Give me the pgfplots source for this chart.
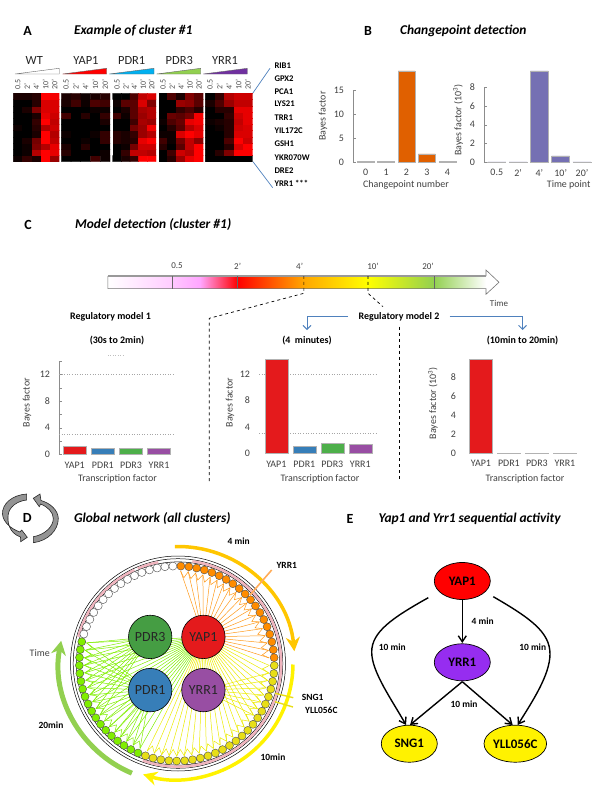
\documentclass[border=0pt]{standalone}
\usepackage{fontspec}
\setmainfont{Carlito}
\usepackage{pgfplots}
\pgfplotsset{compat=1.18}
\usepgfplotslibrary{polar}
\usetikzlibrary{arrows.meta,shapes.geometric}

\definecolor{barred}{RGB}{228,26,28}
\definecolor{barblue}{RGB}{55,126,184}
\definecolor{bargreen}{RGB}{77,175,74}
\definecolor{barpurple}{RGB}{152,78,163}
\definecolor{barorange}{RGB}{224,96,0}
\definecolor{barslate}{RGB}{117,112,179}
\definecolor{linkblue}{RGB}{79,129,189}
\definecolor{netorange}{RGB}{255,153,26}
\definecolor{netyellow}{RGB}{235,235,0}
\definecolor{netgreen}{RGB}{128,238,0}
\definecolor{wedgecyan}{RGB}{0,176,240}
\definecolor{wedgegreen}{RGB}{146,208,80}
\definecolor{wedgepurple}{RGB}{112,48,160}
\definecolor{ringpink}{RGB}{240,180,190}

\pgfplotsset{
  colormap={blackred}{rgb255(0cm)=(0,0,0); rgb255(1cm)=(255,0,0)},
  heat/.style={
    scale only axis, anchor=north west, height=68.4bp,
    colormap name=blackred, point meta min=0, point meta max=1,
    xmin=-0.5, xmax=4.5, ymin=-0.5, ymax=10.5,
    axis line style={draw=none}, major tick length=0pt,
    ytick=\empty, xtick={0,1,2,3,4}, xticklabels={0.5,2',4',10',20'},
    xticklabel pos=upper,
    x tick label style={rotate=90, anchor=west, font=\fontsize{8}{9}\selectfont, text=black!70},
  },
  cell/.style={matrix plot*, mesh/cols=5, point meta=explicit},
  barbox/.style={
    scale only axis, anchor=south west, clip=false,
    axis y line*=left, axis x line*=bottom,
    x axis line style={draw=none}, xtick style={draw=none},
    y axis line style={draw=black!45}, ytick style={draw=black!45},
    major tick length=3bp,
    ticklabel style={font=\fontsize{10}{11}\selectfont, text=black!75},
    x tick label style={yshift=-4bp},
    y tick label style={xshift=-5.5bp},
    label style={font=\fontsize{10}{11}\selectfont, text=black!75},
  },
  noyline/.style={y axis line style={draw=none}, ytick style={draw=none}},
  onebar/.style={ybar, bar shift=0pt, draw=black!30, line width=0.6pt, fill=#1},
}
\tikzset{
  title/.style={font=\fontsize{13.5}{15}\selectfont\bfseries\itshape, anchor=west},
  letter/.style={font=\fontsize{14}{15}\selectfont\bfseries},
  gene/.style={font=\fontsize{8.7}{10}\selectfont\bfseries, anchor=west},
  bold/.style={font=\fontsize{9.5}{11}\selectfont\bfseries},
  model/.style={font=\fontsize{10}{11}\selectfont\bfseries},
  plain/.style={font=\fontsize{9}{10}\selectfont, text=black!75},
  state/.style={draw=black, line width=0.7pt, ellipse, minimum width=56bp, minimum height=37bp, inner sep=0pt,
    font=\fontsize{13}{14}\selectfont\bfseries},
  link/.style={draw=black, line width=1.4pt, -{Straight Barb[length=6bp,width=8bp]}},
  hub/.style={font=\fontsize{14}{15}\selectfont, text=black!85},
}

\begin{document}
\begin{tikzpicture}
\path[use as bounding box] (0bp,0bp) rectangle (600bp,-800bp);

% diagram parts, in pixel coordinates of the 600x800 page
\begin{scope}[x=1bp,y=-1bp]
\node[letter] at (27.5,31) {A};
\node[title] at (70.5,31) {Example of cluster \#1};
\node[letter] at (368,31) {B};
\node[title] at (396.5,31) {Changepoint detection};
\node[letter] at (28,225) {C};
\node[title] at (71.5,225) {Model detection (cluster \#1)};
\node[title] at (70.5,519) {Global network (all clusters)};
\node[letter] at (350,519) {E};
\node[title] at (375,519) {Yap1 and Yrr1 sequential activity};

% panel A wedges and names
\foreach \xa/\xb/\c/\n/\t in {15/59.3/white/WT/34.3, 62.7/106.7/red/YAP1/86, 109.3/154/wedgecyan/PDR1/131.7, 156.7/200.7/wedgegreen/PDR3/179.3, 203.3/247.3/wedgepurple/YRR1/225}{
  \draw[draw=black!60, line width=0.4pt, fill=\c] (\xa,74) -- (\xb,68.3) -- (\xb,74) -- cycle;
  \node[font=\fontsize{12.5}{14}\selectfont, text=black!85] at (\t,60.3) {\n};
}
\foreach \y/\g in {66/RIB1, 79/GPX2, 91.7/PCA1, 104/LYS21, 117.3/TRR1, 130.7/YIL172C, 144/GSH1, 157.3/YKR070W, 170.7/DRE2, 183.3/YRR1 ***}{
  \node[gene] at (271,\y) {\g};
}
\draw[linkblue, line width=0.7pt] (270,68.3) -- (252.7,93.3) (253,161.7) -- (272.7,187.7);

% panel C time arrow
\shade[left color=white, right color=magenta!20] (107.8,276) rectangle (172.5,288.7);
\shade[left color=magenta!22, right color=magenta!35] (172.5,276) rectangle (200,288.7);
\shade[left color=magenta!35, right color=red] (200,276) rectangle (237.6,288.7);
\shade[left color=red, right color=orange!70!yellow] (237.6,276) rectangle (303.5,288.7);
\shade[left color=orange!70!yellow, right color=yellow] (303.5,276) rectangle (368,288.7);
\shade[left color=yellow, right color=wedgegreen] (368,276) rectangle (434,288.7);
\shade[left color=wedgegreen, right color=white] (434,276) rectangle (486,288.7);
\draw[black!55, line width=0.6pt] (486,276) -- (486,270) -- (499,282.3) -- (486,294.3) -- (486,288.7) -- (107.8,288.7) -- (107.8,276);
\draw[black!40, line width=1.3pt] (107.8,276) -- (486,276);
\draw[black!60, line width=0.5pt] (172.5,276) -- (172.5,288.7) (237.6,276) -- (237.6,288.7) (434,276) -- (434,288.7);
\foreach \x/\l in {177/0.5, 237.6/2', 299.6/4', 373/10', 428/20'}{
  \node[plain] at (\x,266) {\l};
}
\node[plain] at (499,303.7) {Time};
\draw[black, dashed, line width=0.7pt] (303.9,276) -- (303.9,293.3) -- (209.3,318.3) -- (209.3,481.7);
\draw[black, dashed, line width=0.7pt] (368,276) -- (368,293.3) -- (383,306.7);
\draw[black, dashed, line width=0.7pt] (399,326.7) -- (399,481.7);
\node[model] at (110.5,316.7) {Regulatory model 1};
\node[model] at (399,316.7) {Regulatory model 2};
\node[model] at (117,341) {(30s to 2min)};
\node[model] at (307,341) {(4\ \ minutes)};
\node[model] at (522.5,341) {(10min to 20min)};
\draw[linkblue, line width=0.9pt, -{Straight Barb[length=4bp,width=8bp]}] (348,316) -- (307,316) -- (307,330);
\draw[linkblue, line width=0.9pt, -{Straight Barb[length=4bp,width=8bp]}] (449.6,316) -- (522.5,316) -- (522.5,330);
\draw[black!25, dotted, line width=0.5pt] (108,355.7) -- (124,355.7);

% panel D cycle icon
\node[letter] at (27.3,518.3) {D};
\draw[fill=black!42, draw=black!85, line width=0.6pt] (26.7,494) .. controls (12,495) and (2,504) .. (2.5,514) .. controls (3,522) and (11,529) .. (20,532) -- (21.7,530) -- (27.3,537.3) -- (20.7,541.7) -- (20.5,537) .. controls (9,533) and (7,522) .. (8.3,514) .. controls (9.5,507) and (17,501) .. (26.7,500) -- cycle;
\draw[fill=black!42, draw=black!85, line width=0.6pt] (33.3,542.7) .. controls (48,541) and (58.5,530) .. (58.3,518.3) .. controls (58,510) and (50,503) .. (41,500.5) -- (40,494) -- (33.3,498.3) -- (39.3,506.7) -- (40.5,504) .. controls (48,507) and (53,512) .. (53.3,518.3) .. controls (53.5,527) and (44,535) .. (33.3,536.7) -- cycle;

% panel D rings
\draw[black, line width=0.5pt] (178,663.5) circle[radius=107.5];
\draw[black, line width=0.5pt] (178,663.5) circle[radius=104.8];
\draw[black, line width=0.5pt] (178,663.5) circle[radius=101.6];
\foreach \a/\b in {-82/110, 195/245, 247/259}{
  \draw[ringpink, line width=2.4pt] ([shift={(\a:103.2)}]178,663.5) arc[start angle=\a, end angle=\b, radius=103.2];
}
% arcs round the network
\draw[color=orange!45!yellow, line width=3.5pt, -{Stealth[length=14bp,width=14bp]}] ([shift={(-91.5:117)}]178,663.5) arc[start angle=-91.5, end angle=-6, radius=117];
\draw[color=yellow, line width=3.5pt, -{Stealth[length=14bp,width=14bp]}] ([shift={(0.5:115)}]178,663.5) arc[start angle=0.5, end angle=107, radius=116];
\draw[color=wedgegreen, line width=5pt, -{Stealth[length=14bp,width=15bp]}] ([shift={(112.8:119)}]178,663.5) arc[start angle=112.8, end angle=191, radius=119];
\draw[color=orange!65!white, line width=1.6pt] (271.7,570) -- (250,595);
\draw[color=yellow!90!black, line width=1.4pt] (275,693.3) -- (293.3,697.7) (275,701.7) -- (293,707);
\node[bold] at (238.7,541) {4 min};
\node[bold] at (286.7,565.7) {YRR1};
\node[bold] at (312.7,697.7) {SNG1};
\node[bold, anchor=west] at (301.7,710.7) {YLL056C};
\node[bold] at (51,725) {20min};
\node[bold] at (273,757.7) {10min};
\node[plain, font=\fontsize{10}{11}\selectfont] at (39.7,652.7) {Time};

% panel E
\node[state, fill=red] (yap) at (462.3,581) {YAP1};
\node[state, fill={rgb,255:red,150;green,45;blue,240}] (yrr) at (462.3,662.3) {YRR1};
\node[state, fill=yellow] (sng) at (409.3,743.7) {SNG1};
\node[state, fill=yellow] (yll) at (515.3,743.7) {YLL056C};
\draw[link] (462.3,600) -- (462.3,643);
\draw[link] (428.3,597.7) .. controls (392,618) and (371.7,632) .. (371.7,652) .. controls (371.7,672) and (392,700) .. (406,725);
\draw[link] (493.3,596.7) .. controls (530,618) and (550,632) .. (550,654) .. controls (550,675) and (532,702) .. (517.7,725);
\draw[link] (462.3,681.7) -- (410,725);
\draw[link] (462.3,681.7) -- (512.7,725);
\node[bold] at (482.7,621.3) {4 min};
\node[bold] at (392.3,647.7) {10 min};
\node[bold] at (532.7,647.7) {10 min};
\node[bold] at (464,704) {10 min};
\end{scope}

% panel A heatmaps, rows listed from the bottom row up
\begin{axis}[heat, at={(13.3bp,-93.3bp)}, width=46bp]
\addplot[cell] coordinates {
(0,0)[.05] (1,0)[.2] (2,0)[.1] (3,0)[1] (4,0)[.6]
(0,1)[0] (1,1)[.05] (2,1)[.7] (3,1)[1] (4,1)[.9]
(0,2)[0] (1,2)[.05] (2,2)[.5] (3,2)[.7] (4,2)[.9]
(0,3)[0] (1,3)[.1] (2,3)[.45] (3,3)[1] (4,3)[.75]
(0,4)[0] (1,4)[0] (2,4)[.1] (3,4)[1] (4,4)[.7]
(0,5)[.05] (1,5)[0] (2,5)[.15] (3,5)[.7] (4,5)[.8]
(0,6)[0] (1,6)[0] (2,6)[.2] (3,6)[1] (4,6)[.75]
(0,7)[0] (1,7)[0] (2,7)[.1] (3,7)[.9] (4,7)[.8]
(0,8)[0] (1,8)[.1] (2,8)[.5] (3,8)[.85] (4,8)[.85]
(0,9)[0] (1,9)[0] (2,9)[.15] (3,9)[.85] (4,9)[.85]
(0,10)[.1] (1,10)[.1] (2,10)[.15] (3,10)[1] (4,10)[.95]
};
\end{axis}
\begin{axis}[heat, at={(61.3bp,-93.3bp)}, width=48.7bp]
\addplot[cell] coordinates {
(0,0)[0] (1,0)[0] (2,0)[0] (3,0)[.25] (4,0)[.05]
(0,1)[.15] (1,1)[0] (2,1)[0] (3,1)[0] (4,1)[.05]
(0,2)[.1] (1,2)[0] (2,2)[.15] (3,2)[0] (4,2)[0]
(0,3)[0] (1,3)[0] (2,3)[.05] (3,3)[0] (4,3)[.2]
(0,4)[.05] (1,4)[0] (2,4)[0] (3,4)[.05] (4,4)[.2]
(0,5)[0] (1,5)[0] (2,5)[0] (3,5)[0] (4,5)[0]
(0,6)[0] (1,6)[0] (2,6)[0] (3,6)[0] (4,6)[.1]
(0,7)[.25] (1,7)[0] (2,7)[.15] (3,7)[0] (4,7)[.2]
(0,8)[0] (1,8)[0] (2,8)[0] (3,8)[.05] (4,8)[.05]
(0,9)[.1] (1,9)[.25] (2,9)[.05] (3,9)[.3] (4,9)[.25]
(0,10)[.1] (1,10)[.15] (2,10)[.05] (3,10)[.1] (4,10)[.15]
};
\end{axis}
\begin{axis}[heat, at={(112.7bp,-93.3bp)}, width=43.3bp]
\addplot[cell] coordinates {
(0,0)[0] (1,0)[.1] (2,0)[.2] (3,0)[1] (4,0)[1]
(0,1)[0] (1,1)[.2] (2,1)[.75] (3,1)[.75] (4,1)[.7]
(0,2)[0] (1,2)[.05] (2,2)[.45] (3,2)[.8] (4,2)[.8]
(0,3)[.15] (1,3)[.1] (2,3)[.15] (3,3)[.9] (4,3)[1]
(0,4)[.15] (1,4)[.1] (2,4)[.2] (3,4)[.6] (4,4)[.7]
(0,5)[0] (1,5)[0] (2,5)[.45] (3,5)[.6] (4,5)[.95]
(0,6)[0] (1,6)[0] (2,6)[.25] (3,6)[.65] (4,6)[.6]
(0,7)[.25] (1,7)[.05] (2,7)[.35] (3,7)[.6] (4,7)[.7]
(0,8)[0] (1,8)[.1] (2,8)[.35] (3,8)[.65] (4,8)[.7]
(0,9)[.05] (1,9)[.35] (2,9)[.35] (3,9)[.85] (4,9)[.5]
(0,10)[0] (1,10)[0] (2,10)[.3] (3,10)[.75] (4,10)[.85]
};
\end{axis}
\begin{axis}[heat, at={(158.7bp,-93.3bp)}, width=44.6bp]
\addplot[cell] coordinates {
(0,0)[0] (1,0)[.15] (2,0)[.6] (3,0)[.9] (4,0)[1]
(0,1)[0] (1,1)[.25] (2,1)[.8] (3,1)[.7] (4,1)[1]
(0,2)[.15] (1,2)[0] (2,2)[.35] (3,2)[.75] (4,2)[1]
(0,3)[.25] (1,3)[.05] (2,3)[.45] (3,3)[.75] (4,3)[.55]
(0,4)[.05] (1,4)[.05] (2,4)[.85] (3,4)[1] (4,4)[.9]
(0,5)[0] (1,5)[.15] (2,5)[.35] (3,5)[.7] (4,5)[.85]
(0,6)[.05] (1,6)[.3] (2,6)[.4] (3,6)[.9] (4,6)[.95]
(0,7)[0] (1,7)[.4] (2,7)[.35] (3,7)[.45] (4,7)[.95]
(0,8)[0] (1,8)[0] (2,8)[.2] (3,8)[.3] (4,8)[.15]
(0,9)[0] (1,9)[0] (2,9)[.6] (3,9)[.55] (4,9)[.35]
(0,10)[0] (1,10)[.3] (2,10)[.1] (3,10)[.5] (4,10)[.35]
};
\end{axis}
\begin{axis}[heat, at={(205.3bp,-93.3bp)}, width=47.4bp]
\addplot[cell] coordinates {
(0,0)[0] (1,0)[0] (2,0)[0] (3,0)[0] (4,0)[0]
(0,1)[0] (1,1)[.15] (2,1)[.5] (3,1)[1] (4,1)[1]
(0,2)[0] (1,2)[0] (2,2)[.15] (3,2)[.85] (4,2)[1]
(0,3)[0] (1,3)[0] (2,3)[.3] (3,3)[1] (4,3)[.8]
(0,4)[0] (1,4)[0] (2,4)[.15] (3,4)[.85] (4,4)[.85]
(0,5)[0] (1,5)[.05] (2,5)[.15] (3,5)[.8] (4,5)[.85]
(0,6)[.05] (1,6)[.1] (2,6)[.15] (3,6)[.75] (4,6)[.9]
(0,7)[0] (1,7)[0] (2,7)[.2] (3,7)[.8] (4,7)[.9]
(0,8)[0] (1,8)[.15] (2,8)[.15] (3,8)[.9] (4,8)[.9]
(0,9)[.1] (1,9)[.3] (2,9)[.6] (3,9)[.75] (4,9)[.75]
(0,10)[0] (1,10)[.2] (2,10)[.7] (3,10)[.8] (4,10)[.8]
};
\end{axis}

% panel B
\begin{axis}[barbox, at={(353bp,-162bp)}, width=107bp, height=72bp,
  xmin=-0.62, xmax=4.62, ymin=0, ymax=15,
  xtick={0,1,2,3,4}, xticklabels={0,1,2,3,4}, ytick={0,5,10,15}, yticklabels={0,5,10,15},
  xlabel={Changepoint number}, ylabel={Bayes factor},
  x label style={at={(axis description cs:0.495,-0.319)},anchor=center},
  y label style={at={(axis description cs:-0.28,0.639)},anchor=center},
]
\addplot[onebar=barorange, bar width=17bp] coordinates {(0,0.05) (1,0.05) (2,19) (3,1.7) (4,0.05)};
\end{axis}
\begin{axis}[barbox, at={(484bp,-162bp)}, width=108bp, height=74.7bp,
  xmin=-0.6, xmax=4.47, ymin=0, ymax=8,
  xtick={0,1,2,3,4}, xticklabels={0.5,2',4',10',20'}, ytick={0,2,4,6,8}, yticklabels={0,2,4,6,8},
  xlabel={Time point}, ylabel={Bayes factor (10\textsuperscript{3})},
  x label style={at={(axis description cs:0.784,-0.308)},anchor=center},
  y label style={at={(axis description cs:-0.24,0.562)},anchor=center},
]
\addplot[onebar=barslate, bar width=18bp] coordinates {(0,0.02) (1,0.02) (2,9.75) (3,0.65) (4,0.02)};
\end{axis}

% panel C
\begin{axis}[barbox, at={(59bp,-454.3bp)}, width=115bp, height=93.3bp,
  xmin=-0.56, xmax=3.53, ymin=0, ymax=14,
  xtick={0,1,2,3}, xticklabels={YAP1,PDR1,PDR3,YRR1},
  ytick={0,2,...,14}, yticklabels={0,,4,,8,,12,},
  xlabel={Transcription factor}, ylabel={Bayes factor},
  x label style={at={(axis description cs:0.508,-0.268)},anchor=center},
  y label style={at={(axis description cs:-0.278,0.553)},anchor=center},
]
\addplot[black!35, dotted, line width=0.6pt] coordinates {(-0.56,12) (3.53,12)};
\addplot[black!35, dotted, line width=0.6pt] coordinates {(-0.56,3) (3.53,3)};
\addplot[onebar=barred, bar width=23bp] coordinates {(0,1.15)};
\addplot[onebar=barblue, bar width=23bp] coordinates {(1,0.85)};
\addplot[onebar=bargreen, bar width=23bp] coordinates {(2,0.95)};
\addplot[onebar=barpurple, bar width=23bp] coordinates {(3,0.9)};
\end{axis}
\begin{axis}[barbox, noyline, at={(259bp,-453.3bp)}, width=117bp, height=92.2bp,
  xmin=-0.62, xmax=3.56, ymin=0, ymax=14,
  xtick={0,1,2,3}, xticklabels={YAP1,PDR1,PDR3,YRR1},
  ytick={0,4,8,12}, yticklabels={0,4,8,12},
  xlabel={Transcription factor}, ylabel={Bayes factor},
  x label style={at={(axis description cs:0.521,-0.282)},anchor=center},
  y label style={at={(axis description cs:-0.248,0.549)},anchor=center},
]
\addplot[black!35, dotted, line width=0.6pt] coordinates {(-0.62,12) (3.56,12)};
\addplot[black!35, dotted, line width=0.6pt] coordinates {(-0.62,3) (3.56,3)};
\addplot[onebar=barred, bar width=23bp] coordinates {(0,14.3)};
\addplot[onebar=barblue, bar width=23bp] coordinates {(1,1.06)};
\addplot[onebar=bargreen, bar width=23bp] coordinates {(2,1.5)};
\addplot[onebar=barpurple, bar width=23bp] coordinates {(3,1.4)};
\end{axis}
\begin{axis}[barbox, noyline, at={(465bp,-453bp)}, width=120bp, height=75.7bp,
  xmin=-0.57, xmax=3.72, ymin=0, ymax=8,
  xtick={0,1,2,3}, xticklabels={YAP1,PDR1,PDR3,YRR1},
  ytick={0,2,4,6,8}, yticklabels={0,2,4,6,8},
  xlabel={Transcription factor}, ylabel={Bayes factor (10\textsuperscript{3})},
  x label style={at={(axis description cs:0.5,-0.347)},anchor=center},
  y label style={at={(axis description cs:-0.267,0.657)},anchor=center},
]
\addplot[onebar=barred, bar width=23bp] coordinates {(0,9.9)};
\addplot[onebar=black!25, bar width=23bp] coordinates {(1,0.02)};
\addplot[onebar=black!25, bar width=23bp] coordinates {(2,0.02)};
\addplot[onebar=black!25, bar width=23bp] coordinates {(3,0.02)};
\end{axis}

% panel D network, angle and radius in a polar axis of 1bp per unit
\begin{polaraxis}[scale only axis, width=240bp, height=240bp, anchor=center, at={(176.8bp,-663.5bp)},
  hide axis, clip=false, xmin=0, xmax=360, ymin=0, ymax=120]
% green links
\pgfplotsinvokeforeach{-113.4,-118.1,-122.8,-127.45,-132.1,-136.8,-141.5,-146.15,-150.8,-155.5,-160.2,-164.85,-169.5,-174.2,-178.9,-183.55,-188.2,-192.9}{
  \addplot[netgreen, line width=0.5pt] coordinates {(45,37.6) (#1,92.5)};
  \addplot[netgreen, line width=0.5pt] coordinates {(225,37.6) (#1,92.5)};
}
\pgfplotsinvokeforeach{-146.15,-150.8,-155.5,-160.2,-164.85,-169.5,-174.2,-178.9,-183.55,-188.2,-192.9}{
  \addplot[netgreen, line width=0.5pt] coordinates {(135,37.6) (#1,92.5)};
}
\addplot[netgreen, line width=0.5pt] coordinates {(-113.4,92.5)(-115.75,86)(-118.1,92.5)(-120.45,86)(-122.8,92.5)(-125.1,86)(-127.45,92.5)(-129.8,86)(-132.1,92.5)(-134.45,86)(-136.8,92.5)(-139.15,86)(-141.5,92.5)(-143.8,86)(-146.15,92.5)(-148.5,86)(-150.8,92.5)(-153.15,86)(-155.5,92.5)(-157.85,86)(-160.2,92.5)(-162.5,86)(-164.85,92.5)(-167.2,86)(-169.5,92.5)(-171.85,86)(-174.2,92.5)(-176.55,86)(-178.9,92.5)(-181.2,86)(-183.55,92.5)(-185.9,86)(-188.2,92.5)(-190.55,86)(-192.9,92.5)};
% yellow links
\pgfplotsinvokeforeach{-1.2,-5.9,-10.6,-15.25,-19.9,-24.6,-29.3,-33.95,-38.6,-43.3,-48,-52.65,-57.3,-62,-66.7,-71.35,-76,-80.7,-85.4,-90.05,-94.7,-99.4,-104.1,-108.75}{
  \addplot[netyellow, line width=0.5pt] coordinates {(45,37.6) (#1,92.5)};
}
\pgfplotsinvokeforeach{-5.9,-10.6,-15.25,-19.9,-24.6,-29.3,-33.95}{
  \addplot[netyellow, line width=0.5pt] coordinates {(-45,37.6) (#1,92.5)};
}
\addplot[netyellow, line width=0.5pt] coordinates {(-1.2,92.5)(-3.55,86)(-5.9,92.5)(-8.25,86)(-10.6,92.5)(-12.9,86)(-15.25,92.5)(-17.6,86)(-19.9,92.5)(-22.25,86)(-24.6,92.5)(-26.95,86)(-29.3,92.5)(-31.6,86)(-33.95,92.5)(-36.3,86)(-38.6,92.5)(-40.95,86)(-43.3,92.5)(-45.65,86)(-48,92.5)(-50.3,86)(-52.65,92.5)(-55,86)(-57.3,92.5)(-59.65,86)(-62,92.5)(-64.35,86)(-66.7,92.5)(-69,86)(-71.35,92.5)(-73.7,86)(-76,92.5)(-78.35,86)(-80.7,92.5)(-83.05,86)(-85.4,92.5)(-87.7,86)(-90.05,92.5)(-92.4,86)(-94.7,92.5)(-97.05,86)(-99.4,92.5)(-101.75,86)(-104.1,92.5)(-106.4,86)(-108.75,92.5)};
% orange links
\pgfplotsinvokeforeach{87.6,82.9,78.25,73.6,68.9,64.2,59.55,54.9,50.2,45.5,40.85,36.2,31.5,26.8,22.15,17.5,12.8,8.1,3.45}{
  \addplot[netorange, line width=0.5pt] coordinates {(45,37.6) (#1,92.5)};
}
\addplot[netorange, line width=0.5pt] coordinates {(87.6,92.5)(85.3,86)(82.9,92.5)(80.6,86)(78.25,92.5)(75.9,86)(73.6,92.5)(71.2,86)(68.9,92.5)(66.6,86)(64.2,92.5)(61.9,86)(59.55,92.5)(57.2,86)(54.9,92.5)(52.5,86)(50.2,92.5)(47.9,86)(45.5,92.5)(43.2,86)(40.85,92.5)(38.5,86)(36.2,92.5)(33.8,86)(31.5,92.5)(29.2,86)(26.8,92.5)(24.5,86)(22.15,92.5)(19.8,86)(17.5,92.5)(15.1,86)(12.8,92.5)(10.5,86)(8.1,92.5)(5.8,86)(3.45,92.5)};
% ring of genes
\addplot[only marks, mark=*, mark size=4bp, mark options={fill=orange!90!yellow, draw=black!70, line width=0.4pt}] coordinates {(87.6,97.5)(82.9,97.5)(78.25,97.5)(73.6,97.5)(68.9,97.5)(64.2,97.5)(59.55,97.5)(54.9,97.5)(50.2,97.5)(45.5,97.5)(40.85,97.5)(36.2,97.5)(31.5,97.5)(26.8,97.5)(22.15,97.5)(17.5,97.5)(12.8,97.5)(8.1,97.5)(3.45,97.5)};
\addplot[only marks, mark=*, mark size=4bp, mark options={fill=yellow!90!black, draw=black!70, line width=0.4pt}] coordinates {(-1.2,97.5)(-5.9,97.5)(-10.6,97.5)(-15.25,97.5)(-19.9,97.5)(-24.6,97.5)(-29.3,97.5)(-33.95,97.5)(-38.6,97.5)(-43.3,97.5)(-48,97.5)(-52.65,97.5)(-57.3,97.5)(-62,97.5)(-66.7,97.5)(-71.35,97.5)(-76,97.5)(-80.7,97.5)(-85.4,97.5)(-90.05,97.5)(-94.7,97.5)(-99.4,97.5)(-104.1,97.5)(-108.75,97.5)};
\addplot[only marks, mark=*, mark size=4bp, mark options={fill=netgreen, draw=black!70, line width=0.4pt}] coordinates {(-113.4,97.5)(-118.1,97.5)(-122.8,97.5)(-127.45,97.5)(-132.1,97.5)(-136.8,97.5)(-141.5,97.5)(-146.15,97.5)(-150.8,97.5)(-155.5,97.5)(-160.2,97.5)(-164.85,97.5)(-169.5,97.5)(-174.2,97.5)(-178.9,97.5)(-183.55,97.5)(-188.2,97.5)(-192.9,97.5)};
\addplot[only marks, mark=*, mark size=4bp, mark options={fill=white, draw=black!70, line width=0.4pt}] coordinates {(-197.6,97.5)(-202.25,97.5)(-206.9,97.5)(-211.6,97.5)(-216.3,97.5)(-220.95,97.5)(-225.6,97.5)(-230.3,97.5)(-235,97.5)(-239.65,97.5)(-244.3,97.5)(-249,97.5)(-253.7,97.5)(-258.35,97.5)(-263,97.5)(-267.7,97.5)};
% regulators
\addplot[only marks, mark=*, mark size=21.7bp, mark options={fill=barred, draw=black, line width=0.6pt}] coordinates {(45,37.6)};
\addplot[only marks, mark=*, mark size=21.7bp, mark options={fill=bargreen!90!black, draw=black, line width=0.6pt}] coordinates {(135,37.6)};
\addplot[only marks, mark=*, mark size=21.7bp, mark options={fill=barblue, draw=black, line width=0.6pt}] coordinates {(225,37.6)};
\addplot[only marks, mark=*, mark size=21.7bp, mark options={fill=barpurple, draw=black, line width=0.6pt}] coordinates {(315,37.6)};
\end{polaraxis}

\begin{scope}[x=1bp,y=-1bp]
\node[hub] at (203.4,636.9) {YAP1};
\node[hub] at (150.2,636.9) {PDR3};
\node[hub] at (150.2,690.1) {PDR1};
\node[hub] at (203.4,690.1) {YRR1};
\end{scope}
\end{tikzpicture}
\end{document}
